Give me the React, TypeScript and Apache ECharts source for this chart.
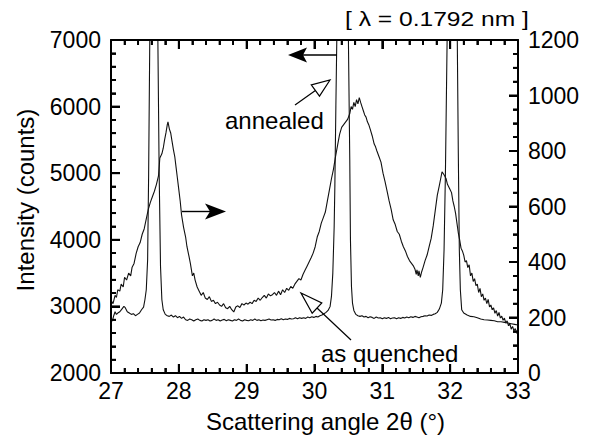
import React, { useEffect, useRef } from "react";
import * as echarts from "echarts";

// As-quenched (right axis, counts)
const quenchedX = [
  27.0, 27.03, 27.06, 27.08, 27.1, 27.13, 27.15, 27.18, 27.2, 27.23, 27.26, 27.29, 27.31, 27.34, 27.37, 27.4,
  27.43, 27.46, 27.49, 27.52, 27.55, 27.58, 27.61, 27.64, 27.67, 27.7, 27.72, 27.75, 27.77, 27.79, 27.81, 27.83,
  27.84, 27.86, 27.88, 27.9, 27.92, 27.94, 27.96, 27.98, 28.0, 28.02, 28.04, 28.07, 28.1, 28.12, 28.15, 28.17,
  28.2, 28.22, 28.24, 28.27, 28.3, 28.33, 28.36, 28.39, 28.42, 28.45, 28.48, 28.51, 28.54, 28.57, 28.6, 28.63,
  28.66, 28.69, 28.72, 28.75, 28.78, 28.81, 28.84, 28.87, 28.9, 28.93, 28.96, 28.99, 29.02, 29.05, 29.08, 29.11,
  29.14, 29.17, 29.2, 29.23, 29.26, 29.29, 29.32, 29.35, 29.38, 29.41, 29.44, 29.47, 29.5, 29.53, 29.56, 29.59,
  29.62, 29.65, 29.68, 29.71, 29.74, 29.77, 29.8, 29.83, 29.86, 29.89, 29.92, 29.95, 29.98, 30.01, 30.04, 30.07,
  30.1, 30.13, 30.16, 30.19, 30.22, 30.25, 30.28, 30.31, 30.34, 30.37, 30.4, 30.43, 30.46, 30.49, 30.52, 30.54,
  30.56, 30.58, 30.6, 30.62, 30.64, 30.66, 30.68, 30.7, 30.72, 30.74, 30.76, 30.78, 30.8, 30.82, 30.85, 30.88,
  30.9, 30.92, 30.95, 30.98, 31.01, 31.04, 31.07, 31.1, 31.13, 31.16, 31.19, 31.22, 31.25, 31.28, 31.31, 31.34,
  31.37, 31.4, 31.43, 31.46, 31.48, 31.5, 31.51, 31.53, 31.54, 31.56, 31.58, 31.6, 31.63, 31.66, 31.69, 31.72,
  31.75, 31.78, 31.81, 31.84, 31.86, 31.88, 31.9, 31.92, 31.94, 31.96, 31.98, 32.0, 32.02, 32.04, 32.06, 32.08,
  32.1, 32.12, 32.14, 32.16, 32.18, 32.2, 32.22, 32.24, 32.26, 32.28, 32.3, 32.32, 32.34, 32.36, 32.38, 32.4,
  32.42, 32.44, 32.46, 32.48, 32.5, 32.52, 32.54, 32.56, 32.58, 32.6, 32.62, 32.64, 32.66, 32.68, 32.7, 32.72,
  32.74, 32.76, 32.78, 32.8, 32.82, 32.84, 32.86, 32.88, 32.9, 32.92, 32.94, 32.96, 32.98, 33.0,
];
const quenchedY = [
  262, 250, 280, 272, 300, 295, 320, 310, 345, 335, 360, 350, 380, 395, 430, 455,
  470, 500, 520, 555, 590, 615, 635, 655, 680, 710, 775, 790, 810, 840, 865, 895,
  905, 880, 865, 835, 805, 780, 740, 700, 660, 620, 570, 525, 490, 455, 420, 395,
  350, 360, 335, 310, 295, 280, 290, 270, 265, 275, 258, 262, 250, 255, 245, 240,
  250, 235, 232, 240, 228, 220, 238, 242, 236, 250, 245, 252, 248, 255, 250, 262,
  258, 270, 262, 272, 280, 270, 285, 278, 282, 290, 280, 295, 282, 300, 290, 305,
  298, 312, 305, 320, 330, 340, 335, 355, 370, 385, 400, 415, 432, 455, 490, 510,
  540, 560, 580, 620, 660, 700, 735, 780, 820, 860, 885, 895, 905, 915, 935, 960,
  950, 975, 960, 985, 970, 992, 975, 960, 945, 930, 922, 905, 895, 880, 855, 825,
  815, 800, 780, 760, 720, 690, 655, 620, 590, 552, 535, 510, 500, 475, 455, 440,
  420, 405, 395, 385, 375, 355, 372, 350, 368, 345, 365, 380, 405, 425, 455, 485,
  530, 585, 640, 675, 700, 725, 718, 710, 700, 680, 670, 660, 650, 620, 600, 575,
  540, 505, 480, 450, 440, 425, 400, 405, 380, 390, 350, 360, 330, 340, 315, 320,
  290, 305, 275, 285, 262, 270, 250, 265, 238, 245, 228, 235, 215, 225, 205, 218,
  198, 205, 190, 198, 180, 188, 170, 178, 158, 168, 152, 160, 145, 140,
];

// Annealed (left axis, counts)
const annealedX = [
  27.0, 27.02, 27.04, 27.06, 27.08, 27.1, 27.13, 27.16, 27.19, 27.21, 27.24, 27.27, 27.3, 27.33, 27.36, 27.39,
  27.42, 27.45, 27.48, 27.5, 27.52, 27.54, 27.555, 27.57, 27.59, 27.63, 27.67, 27.69, 27.71, 27.73, 27.75, 27.77,
  27.8, 27.83, 27.86, 27.89, 27.92, 27.95, 27.98, 28.01, 28.04, 28.07, 28.1, 28.13, 28.16, 28.19, 28.22, 28.25,
  28.28, 28.31, 28.34, 28.37, 28.4, 28.43, 28.46, 28.49, 28.52, 28.55, 28.58, 28.61, 28.64, 28.67, 28.7, 28.73,
  28.76, 28.79, 28.82, 28.85, 28.88, 28.91, 28.94, 28.97, 29.0, 29.03, 29.06, 29.09, 29.12, 29.15, 29.18, 29.21,
  29.24, 29.27, 29.3, 29.33, 29.36, 29.39, 29.42, 29.45, 29.48, 29.51, 29.54, 29.57, 29.6, 29.63, 29.66, 29.69,
  29.72, 29.75, 29.78, 29.81, 29.84, 29.87, 29.9, 29.93, 29.96, 29.99, 30.02, 30.05, 30.08, 30.11, 30.14, 30.17,
  30.2, 30.23, 30.25, 30.27, 30.29, 30.3, 30.315, 30.33, 30.35, 30.41, 30.47, 30.5, 30.52, 30.53, 30.545, 30.56,
  30.58, 30.61, 30.64, 30.67, 30.7, 30.73, 30.76, 30.79, 30.82, 30.85, 30.88, 30.91, 30.94, 30.97, 31.0, 31.03,
  31.06, 31.09, 31.12, 31.15, 31.18, 31.21, 31.24, 31.27, 31.3, 31.33, 31.36, 31.39, 31.42, 31.45, 31.48, 31.51,
  31.54, 31.57, 31.6, 31.63, 31.66, 31.69, 31.72, 31.75, 31.78, 31.81, 31.84, 31.87, 31.89, 31.91, 31.93, 31.955,
  31.98, 32.03, 32.08, 32.105, 32.12, 32.135, 32.15, 32.17, 32.2, 32.25, 32.3, 32.35, 32.4, 32.45, 32.5, 32.55,
  32.6, 32.65, 32.7, 32.75, 32.8, 32.85, 32.9, 32.95, 33.0,
];
const annealedY = [
  2830, 2780, 2860, 2920, 2880, 2900, 2920, 2960, 3000, 2980, 2920, 2900, 2880, 2890, 2860, 2880,
  2900, 2950, 2990, 3100, 3250, 3700, 5000, 6800, 9000, 11000, 9000, 7100, 5000, 3600, 3100, 2950,
  2880, 2860, 2850, 2870, 2840, 2860, 2830, 2850, 2820, 2840, 2800, 2790, 2810, 2800, 2780, 2800,
  2810, 2790, 2780, 2800, 2790, 2800, 2780, 2790, 2810, 2790, 2800, 2780, 2795, 2805, 2785, 2800,
  2790, 2780, 2800, 2790, 2810, 2790, 2780, 2800, 2790, 2785, 2800, 2790, 2810, 2790, 2800, 2785,
  2795, 2790, 2800, 2810, 2795, 2800, 2790, 2805, 2800, 2815, 2800, 2810, 2805, 2820, 2810, 2815,
  2830, 2815, 2830, 2820, 2830, 2820, 2840, 2830, 2845, 2835, 2850, 2840, 2860, 2870, 2890, 2910,
  2940, 3000, 3150, 3500, 4200, 4800, 6000, 7100, 9000, 12000, 9000, 7000, 5200, 4000, 3300, 3050,
  2940, 2880, 2860, 2850, 2860, 2840, 2850, 2830, 2845, 2835, 2820, 2840, 2825, 2830, 2815, 2830,
  2820, 2835, 2815, 2825, 2830, 2815, 2830, 2820, 2835, 2825, 2840, 2830, 2845, 2835, 2850, 2840,
  2830, 2845, 2850, 2860, 2855, 2870, 2865, 2880, 2890, 2910, 2960, 3050, 3250, 3850, 5000, 7000,
  9500, 11000, 9500, 7000, 5300, 3850, 3250, 2950, 2900, 2870, 2850, 2845, 2830, 2810, 2800, 2795,
  2790, 2785, 2770, 2770, 2760, 2750, 2740, 2730, 2720,
];

const xRange = [27, 33];
const xSteps = [1, 0.2];
const yLeftRange = [2000, 7000];
const yLeftSteps = [1000, 200];
const yRightRange = [0, 1200];
const yRightSteps = [200, 50];

const FONT = "'Liberation Sans', Arial, Helvetica, sans-serif";
const INK = "#111";

function pairs(xs: number[], ys: number[]) {
  return xs.map((x, i) => [x, ys[i]]);
}

function makeAxis(extra: any, minorSplit: number, label: any) {
  return {
    ...extra,
    axisLine: { show: true, onZero: false, lineStyle: { color: "#000", width: 2 } },
    axisTick: { show: true, inside: true, length: 9, lineStyle: { color: "#000", width: 2 } },
    minorTick: { show: true, splitNumber: minorSplit, length: 5, lineStyle: { color: "#000", width: 1.8 } },
    splitLine: { show: false },
    minorSplitLine: { show: false },
    axisLabel: label
      ? { show: true, color: "#000", fontFamily: FONT, fontSize: 23, formatter: (v: number) => String(v), ...label }
      : { show: false },
  };
}

function tickValues(range: number[], steps: number[]) {
  const n = Math.round((range[1] - range[0]) / steps[1]);
  const per = Math.round(steps[0] / steps[1]);
  const out: { v: number; major: boolean }[] = [];
  for (let k = 0; k <= n; k++) out.push({ v: range[0] + k * steps[1], major: k % per === 0 });
  return out;
}

export default function App() {
  const ref = useRef<HTMLDivElement>(null);
  useEffect(() => {
    if (!ref.current) return;
    const chart = echarts.init(ref.current, null, { renderer: "svg" });
    chart.setOption({
      animation: false,
      backgroundColor: "#fff",
      grid: { left: 111, right: 78, top: 40, bottom: 65 },
      xAxis: [
        makeAxis({ type: "value", min: xRange[0], max: xRange[1], interval: xSteps[0], position: "bottom" }, 5, { margin: 6 }),
        makeAxis({ type: "value", min: xRange[0], max: xRange[1], interval: xSteps[0], position: "top" }, 5, null),
      ],
      yAxis: [
        makeAxis({ type: "value", min: yLeftRange[0], max: yLeftRange[1], interval: yLeftSteps[0], position: "left" }, 5, { margin: 10, padding: [0, 0, 5, 0] }),
        makeAxis({ type: "value", min: yRightRange[0], max: yRightRange[1], interval: yRightSteps[0], position: "right" }, 4, { margin: 10, padding: [0, 0, 6, 0] }),
      ],
      series: [
        {
          name: "annealed", type: "line", xAxisIndex: 0, yAxisIndex: 0,
          data: pairs(annealedX, annealedY), showSymbol: false, symbol: "none",
          lineStyle: { color: INK, width: 1.1 }, clip: true,
        },
        {
          name: "as quenched", type: "line", xAxisIndex: 0, yAxisIndex: 1,
          data: pairs(quenchedX, quenchedY), showSymbol: false, symbol: "none",
          lineStyle: { color: INK, width: 1.1 }, clip: true,
        },
      ],
    });

    const px = (v: number) => chart.convertToPixel({ xAxisIndex: 0 } as any, v) as number;
    const pyL = (v: number) => chart.convertToPixel({ yAxisIndex: 0 } as any, v) as number;
    const pyR = (v: number) => chart.convertToPixel({ yAxisIndex: 1 } as any, v) as number;
    const left = px(xRange[0]);
    const right = px(xRange[1]);
    const top = pyL(yLeftRange[1]);
    const bottom = pyL(yLeftRange[0]);
    const tickEls: any[] = [];
    const tk = (x1: number, y1: number, x2: number, y2: number, major: boolean) =>
      tickEls.push({ type: "line", z: 120, shape: { x1, y1, x2, y2 }, style: { stroke: "#000", lineWidth: major ? 2 : 1.8 } });
    tickValues(xRange, xSteps).forEach(({ v, major }) => {
      const x = px(v);
      const len = major ? 9 : 5;
      tk(x, bottom, x, bottom - len, major);
      tk(x, top, x, top + len, major);
    });
    tickValues(yLeftRange, yLeftSteps).forEach(({ v, major }) => {
      const y = pyL(v);
      tk(left, y, left + (major ? 9 : 5), y, major);
    });
    tickValues(yRightRange, yRightSteps).forEach(({ v, major }) => {
      const y = pyR(v);
      tk(right, y, right - (major ? 9 : 5), y, major);
    });
    // frame as four lines
    tk(left, top, right, top, true);
    tk(left, bottom, right, bottom, true);
    tk(left, top, left, bottom, true);
    tk(right, top, right, bottom, true);

    chart.setOption({
      graphic: [
        ...tickEls,
        {
          type: "text", x: 345, y: 19.5, scaleX: 1.23, z: 100,
          style: { text: "[ λ = 0.1792 nm ]", fontFamily: FONT, fontSize: 20, fill: "#000", align: "left", verticalAlign: "middle" },
        },
        {
          type: "text", x: 25, y: 200, rotation: Math.PI / 2, z: 100,
          style: { text: "Intensity (counts)", fontFamily: FONT, fontSize: 24, fill: "#000", align: "center", verticalAlign: "middle" },
        },
        {
          type: "text", x: 325.5, y: 421, z: 100,
          style: { text: "Scattering angle 2θ (°)", fontFamily: FONT, fontSize: 24, fill: "#000", align: "center", verticalAlign: "middle" },
        },
        {
          type: "text", x: 225, y: 120, z: 100,
          style: { text: "annealed", fontFamily: FONT, fontSize: 24, fill: "#000", align: "left", verticalAlign: "middle" },
        },
        {
          type: "text", x: 321, y: 353, z: 100,
          style: { text: "as quenched", fontFamily: FONT, fontSize: 24, fill: "#000", align: "left", verticalAlign: "middle" },
        },
        { type: "line", z: 100, shape: { x1: 337, y1: 55, x2: 300, y2: 55 }, style: { stroke: "#000", lineWidth: 1.4 } },
        { type: "polygon", z: 100, shape: { points: [[288, 55], [307, 47.5], [303, 55], [307, 62.5]] }, style: { fill: "#000" } },
        { type: "line", z: 100, shape: { x1: 182, y1: 211.5, x2: 212, y2: 211.5 }, style: { stroke: "#000", lineWidth: 1.4 } },
        { type: "polygon", z: 100, shape: { points: [[226, 211.5], [205, 203.5], [210, 211.5], [205, 219.5]] }, style: { fill: "#000" } },
        { type: "line", z: 100, shape: { x1: 295, y1: 105, x2: 315.4, y2: 90.5 }, style: { stroke: "#000", lineWidth: 1.2 } },
        { type: "polygon", z: 100, shape: { points: [[330, 80], [319.5, 96.2], [311.3, 84.8]] }, style: { fill: "#fff", stroke: "#000", lineWidth: 1.2 } },
        { type: "line", z: 100, shape: { x1: 351, y1: 340, x2: 317, y2: 308 }, style: { stroke: "#000", lineWidth: 1.2 } },
        { type: "polygon", z: 100, shape: { points: [[301, 293], [321.8, 303], [312.2, 313.2]] }, style: { fill: "#fff", stroke: "#000", lineWidth: 1.2 } },
      ],
    });
    return () => chart.dispose();
  }, []);
  return (
    <div
      ref={ref}
      style={{ position: "fixed", left: 0, top: 0, width: 596, height: 438, background: "#fff" }}
    />
  );
}
